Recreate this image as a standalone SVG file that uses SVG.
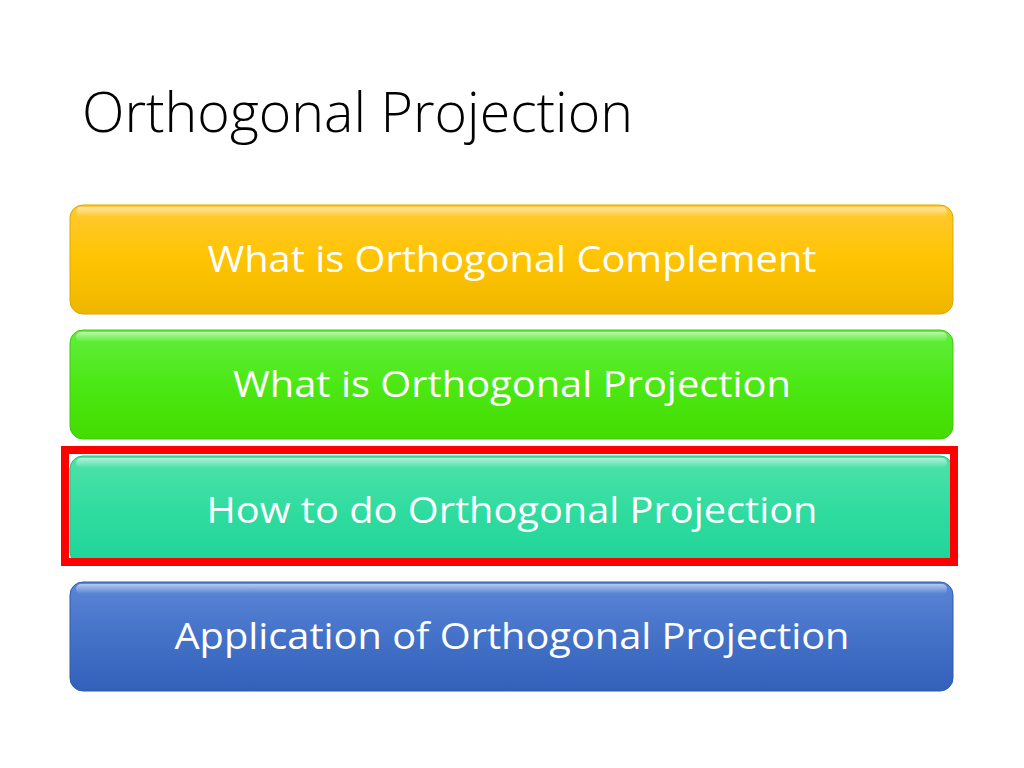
<svg xmlns="http://www.w3.org/2000/svg" width="1024" height="768" viewBox="0 0 1024 768">
<defs>
<linearGradient id="gGold" x1="0" y1="0" x2="0" y2="1">
<stop offset="0" stop-color="#FFC935"/><stop offset="0.5" stop-color="#FFC400"/><stop offset="1" stop-color="#EEB600"/>
</linearGradient>
<linearGradient id="gGreen" x1="0" y1="0" x2="0" y2="1">
<stop offset="0" stop-color="#62EE3E"/><stop offset="0.5" stop-color="#4CE815"/><stop offset="1" stop-color="#44DC00"/>
</linearGradient>
<linearGradient id="gTeal" x1="0" y1="0" x2="0" y2="1">
<stop offset="0" stop-color="#4FE2A8"/><stop offset="0.5" stop-color="#30DCA0"/><stop offset="1" stop-color="#1FD498"/>
</linearGradient>
<linearGradient id="gBlue" x1="0" y1="0" x2="0" y2="1">
<stop offset="0" stop-color="#5A86D6"/><stop offset="0.5" stop-color="#4472C8"/><stop offset="1" stop-color="#3361BA"/>
</linearGradient>
<linearGradient id="gHi" x1="0" y1="0" x2="0" y2="1">
<stop offset="0" stop-color="#FFFFFF" stop-opacity="0.55"/><stop offset="1" stop-color="#FFFFFF" stop-opacity="0"/>
</linearGradient>
</defs>
<style>
.title{font-family:"Open Sans","Liberation Sans",sans-serif;font-weight:300;font-size:56px;fill:#000}
.lbl{font-family:"Open Sans","Liberation Sans",sans-serif;font-size:36px;fill:#FFFFFF;text-anchor:middle}
.hi{fill:url(#gHi)}
</style>
<rect width="1024" height="768" fill="#FFFFFF"/>
<text class="title" x="82" y="132" textLength="551" lengthAdjust="spacingAndGlyphs">Orthogonal Projection</text>

<g id="node1">
<rect x="70" y="205" width="883" height="109" rx="13" fill="url(#gGold)" stroke="#D9A800" stroke-width="1"/>
<rect x="76" y="207" width="871" height="10" rx="5" class="hi"/>
<text class="lbl" x="512" y="272" textLength="609" lengthAdjust="spacingAndGlyphs">What is Orthogonal Complement</text>
</g>
<g id="node2">
<rect x="70" y="330" width="883" height="109" rx="13" fill="url(#gGreen)" stroke="#40C810" stroke-width="1"/>
<rect x="76" y="332" width="871" height="10" rx="5" class="hi"/>
<text class="lbl" x="512" y="397" textLength="558" lengthAdjust="spacingAndGlyphs">What is Orthogonal Projection</text>
</g>
<g id="node3">
<rect x="70" y="456" width="883" height="109" rx="13" fill="url(#gTeal)" stroke="#20C090" stroke-width="1"/>
<rect x="76" y="458" width="871" height="10" rx="5" class="hi"/>
<text class="lbl" x="512" y="523" textLength="611" lengthAdjust="spacingAndGlyphs">How to do Orthogonal Projection</text>
</g>
<g id="node4">
<rect x="70" y="582" width="883" height="109" rx="13" fill="url(#gBlue)" stroke="#2F5AAE" stroke-width="1"/>
<rect x="76" y="584" width="871" height="10" rx="5" class="hi"/>
<text class="lbl" x="512" y="649" textLength="675" lengthAdjust="spacingAndGlyphs">Application of Orthogonal Projection</text>
</g>
<g id="highlight">
<rect x="65" y="450" width="889" height="112" fill="none" stroke="#FF0000" stroke-width="8"/>
</g>
<g id="connectors"/>
</svg>
